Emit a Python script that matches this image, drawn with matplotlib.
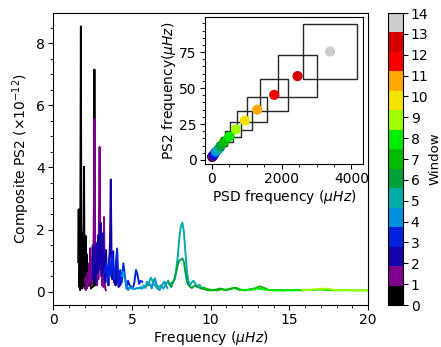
import numpy as np
import matplotlib
matplotlib.use("Agg")
import matplotlib.pyplot as plt
from matplotlib.ticker import AutoMinorLocator
from matplotlib.colors import Normalize
from matplotlib.patches import Rectangle

# window centre frequencies (inset scatter)
windows = list(range(15))
psd_freq = [15, 29, 57, 86, 123, 189, 257, 360, 503, 694, 951, 1303, 1789, 2457, 3389]
ps2_freq = [2.15, 2.7, 3.4, 4.45, 5.8, 7.4, 9.7, 12.7, 16.2, 21.3, 27.4, 35.0, 45.3, 58.3, 75.4]

# composite PS2 per window (main panel)
freq = [
    [1.58, 1.61, 1.64, 1.67, 1.70, 1.75, 1.78, 1.81, 1.84, 1.87, 1.90, 1.95, 1.98, 2.01, 2.04,
     2.07, 2.10, 2.13, 2.16, 2.19, 2.22, 2.25, 2.30, 2.35, 2.40, 2.45, 2.50, 2.55, 2.58, 2.61, 2.64, 2.68],
    [2.02, 2.06, 2.10, 2.14, 2.18, 2.22, 2.26, 2.30, 2.34, 2.38, 2.42, 2.46, 2.50, 2.54, 2.58, 2.62,
     2.66, 2.70, 2.74, 2.78, 2.82, 2.86, 2.90, 2.94, 2.98, 3.02, 3.06, 3.10, 3.14, 3.18, 3.22, 3.26, 3.30, 3.34],
    [2.50, 2.55, 2.60, 2.65, 2.70, 2.75, 2.80, 2.85, 2.90, 2.95, 3.00, 3.05, 3.10, 3.15, 3.20, 3.25,
     3.30, 3.35, 3.40, 3.45, 3.50, 3.55, 3.60, 3.65, 3.70, 3.75, 3.80, 3.85, 3.90, 3.95, 4.00, 4.05,
     4.10, 4.15, 4.20, 4.25, 4.30],
    [3.25, 3.35, 3.45, 3.55, 3.65, 3.75, 3.85, 3.95, 4.05, 4.15, 4.25, 4.35, 4.45, 4.55, 4.65, 4.75,
     4.85, 4.95, 5.05, 5.15, 5.25, 5.35, 5.45, 5.55, 5.65],
    [4.35, 4.45, 4.55, 4.65, 4.75, 4.85, 4.95, 5.05, 5.15, 5.25, 5.35, 5.45, 5.55, 5.65, 5.75, 5.85,
     5.95, 6.05, 6.15, 6.25, 6.35, 6.45, 6.55, 6.65, 6.75, 6.85, 6.95, 7.05, 7.15, 7.25],
    [5.6, 5.8, 6.0, 6.2, 6.4, 6.6, 6.8, 7.0, 7.2, 7.4, 7.6, 7.7, 7.8, 7.9, 8.0, 8.1, 8.2, 8.3, 8.4,
     8.5, 8.6, 8.7, 8.8, 8.9, 9.0, 9.1, 9.2, 9.3, 9.4, 9.5, 9.6, 9.7, 9.8],
    [7.3, 7.4, 7.5, 7.6, 7.7, 7.8, 7.9, 8.0, 8.1, 8.2, 8.3, 8.4, 8.5, 8.6, 8.7, 8.8, 9.0, 9.2, 9.4,
     9.6, 9.8, 10.0, 10.3, 10.6, 10.9, 11.2, 11.5, 11.8, 12.1],
    [9.5, 9.8, 10.1, 10.4, 10.7, 11.0, 11.3, 11.6, 11.9, 12.2, 12.5, 12.8, 13.1, 13.4, 13.7, 14.0,
     14.3, 14.6, 14.9, 15.2, 15.5, 15.9],
    [12.0, 12.5, 13.0, 13.5, 14.0, 14.5, 15.0, 15.5, 16.0, 16.5, 17.0, 17.5, 18.0, 18.5, 19.0, 19.5, 20.0],
    [15.8, 16.3, 16.8, 17.3, 17.8, 18.3, 18.8, 19.3, 19.8, 20.3],
]
power = [
    [0.95, 2.65, 0.15, 0.6, 0.05, 8.54, 0.3, 1.2, 0.1, 1.9, 0.2, 4.02, 0.35, 1.6, 0.1,
     1.79, 0.3, 1.2, 0.15, 0.9, 0.5, 0.55, 0.2, 0.35, 0.1, 0.4, 0.15, 0.3, 0.2, 7.15, 0.2, 0.5],
    [0.45, 0.05, 0.3, 0.1, 0.6, 0.2, 0.9, 0.3, 1.4, 0.4, 1.1, 0.2, 1.5, 0.8, 3.0, 5.55,
     1.2, 0.3, 0.8, 0.2, 1.0, 0.4, 2.6, 4.66, 1.6, 0.5, 1.0, 0.2, 0.7, 0.15, 2.4, 0.3, 0.1, 0.05],
    [0.4, 1.45, 0.5, 0.9, 0.3, 1.56, 0.6, 1.82, 0.7, 1.3, 2.22, 0.9, 0.5, 1.88, 0.6, 1.2,
     0.3, 1.34, 0.5, 0.8, 0.2, 0.9, 1.6, 3.61, 1.0, 0.4, 1.3, 0.3, 0.7, 0.2, 1.0, 0.3,
     0.6, 0.15, 0.5, 0.2, 0.35],
    [0.6, 0.9, 0.3, 1.1, 0.5, 1.2, 0.4, 0.8, 1.39, 0.2, 0.7, 0.3, 0.91, 0.5, 0.1, 0.35,
     0.2, 0.15, 0.1, 0.3, 0.7, 0.55, 0.25, 0.35, 0.32],
    [0.5, 0.65, 0.4, 0.2, 0.05, 0.15, 0.1, 0.12, 0.08, 0.1, 0.12, 0.1, 0.15, 0.1, 0.2, 0.12,
     0.32, 0.2, 0.25, 0.1, 0.3, 0.43, 0.25, 0.1, 0.05, 0.15, 0.25, 0.32, 0.2, 0.12],
    [0.1, 0.15, 0.2, 0.45, 0.25, 0.1, 0.2, 0.1, 0.3, 0.25, 0.3, 0.4, 0.7, 1.1, 1.7, 2.1, 2.22, 1.9, 1.2,
     0.6, 0.3, 0.22, 0.3, 0.35, 0.28, 0.15, 0.2, 0.22, 0.12, 0.1, 0.13, 0.08, 0.06],
    [0.35, 0.2, 0.15, 0.3, 0.4, 0.6, 0.85, 1.0, 1.03, 1.07, 0.95, 0.6, 0.3, 0.2, 0.15, 0.12, 0.2, 0.15, 0.1,
     0.08, 0.05, 0.04, 0.06, 0.1, 0.05, 0.08, 0.12, 0.06, 0.05],
    [0.12, 0.08, 0.05, 0.04, 0.08, 0.06, 0.1, 0.13, 0.06, 0.04, 0.08, 0.1, 0.17, 0.12, 0.05, 0.04,
     0.05, 0.04, 0.05, 0.04, 0.05, 0.04],
    [0.06, 0.05, 0.1, 0.06, 0.05, 0.04, 0.05, 0.05, 0.06, 0.05, 0.07, 0.05, 0.04, 0.05, 0.04, 0.04, 0.04],
    [0.05, 0.06, 0.08, 0.1, 0.06, 0.04, 0.05, 0.04, 0.04, 0.04],
]

cmap = plt.get_cmap("nipy_spectral", 15)
norm = Normalize(vmin=0, vmax=14)

fig = plt.figure(figsize=(4.41, 3.47), dpi=100)
ax = fig.add_axes([0.121, 0.121, 0.7136, 0.8415])

for w in range(len(freq)):
    ax.plot(freq[w], power[w], color=cmap(norm(w)), lw=1.4)

ax.set_xlim(0, 20)
ax.set_ylim(-0.43, 8.97)
ax.set_xticks([0, 5, 10, 15, 20])
ax.set_yticks([0, 2, 4, 6, 8])
ax.xaxis.set_minor_locator(AutoMinorLocator())
ax.yaxis.set_minor_locator(AutoMinorLocator())
ax.tick_params(labelsize=10, pad=2.5)
ax.set_xlabel(r"Frequency ($\mu Hz$)", fontsize=10, labelpad=1)
ax.set_ylabel(r"Composite PS2 ($\times10^{-12}$)", fontsize=10, labelpad=3)

# inset: PSD vs PS2 frequency with window boxes
ins = fig.add_axes([0.4649, 0.5274, 0.3583, 0.4236])
for w in windows:
    x0, y0 = psd_freq[w] * 0.775, ps2_freq[w] * 0.75
    ins.add_patch(Rectangle((x0, y0), psd_freq[w] * 0.45, ps2_freq[w] * 0.5,
                            fill=False, ec="0.15", lw=1.0, zorder=1))
ins.scatter(psd_freq, ps2_freq, c=windows, cmap=cmap, norm=norm, s=40, zorder=3)
ins.set_xlim(-190, 4330)
ins.set_ylim(-2.8, 99.4)
ins.set_xticks([0, 2000, 4000])
ins.set_yticks([0, 25, 50, 75])
ins.xaxis.set_minor_locator(AutoMinorLocator())
ins.yaxis.set_minor_locator(AutoMinorLocator())
ins.tick_params(labelsize=10, pad=2.5)
ins.set_xlabel(r"PSD frequency ($\mu Hz$)", fontsize=10, labelpad=1)
ins.set_ylabel(r"PS2 frequency($\mu Hz$)", fontsize=10, labelpad=1)

# colorbar
cax = fig.add_axes([0.88, 0.121, 0.034, 0.8415])
sm = plt.cm.ScalarMappable(cmap=cmap, norm=norm)
cb = fig.colorbar(sm, cax=cax, ticks=range(15))
cb.ax.tick_params(labelsize=10, pad=2)
cb.set_label("Window", fontsize=9.5, labelpad=0)

fig.savefig("out.png", dpi=100)
